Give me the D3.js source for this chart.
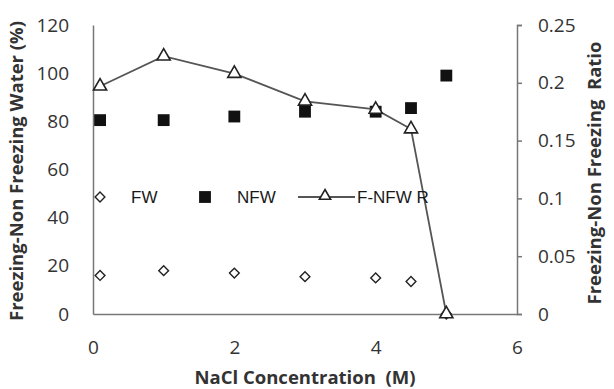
<!DOCTYPE html>
<html>
<head>
<meta charset="utf-8">
<script src="https://cdn.jsdelivr.net/npm/d3@7"></script>
<style>
  body { margin: 0; background: #fff; }
  text { font-family: "Open Sans", "DejaVu Sans", sans-serif; fill: #333; }
  text.legend { font-family: "Liberation Sans", Arial, sans-serif; fill: #1a1a1a; }
</style>
</head>
<body>
<svg id="chart" width="614" height="389"></svg>
<script>
const conc = [0.1, 1, 2, 3, 4, 4.5, 5];
const fw = [16, 18, 17, 15.5, 15, 13.5, 0];
const nfw = [80.5, 80.5, 82, 84, 84, 85.5, 99];
const ratio = [0.197, 0.223, 0.208, 0.184, 0.177, 0.16, 0];
const leftTicks = [0, 20, 40, 60, 80, 100, 120];
const rightTicks = [0, 0.05, 0.1, 0.15, 0.2, 0.25];
const xTicks = [0, 2, 4, 6];

const svg = d3.select('#chart');
const mLeft = 93, mRight = 517, mTop = 25, mBottom = 314;

const x = d3.scaleLinear().domain([0, 6]).range([mLeft, mRight]);
const yL = d3.scaleLinear().domain([0, 120]).range([mBottom, mTop]);
const yR = d3.scaleLinear().domain([0, 0.25]).range([mBottom, mTop]);
const axisColor = '#777';

// Left axis (line only, labels)
const gl = svg.append('g').attr('transform', `translate(${mLeft},0)`)
    .call(d3.axisLeft(yL).tickValues(leftTicks).tickSize(0).tickPadding(24));
gl.select('.domain').attr('stroke', axisColor).attr('stroke-width', 1.5);
gl.selectAll('text').attr('font-size', '19px').attr('fill', '#333');

// Right axis with outward ticks
const gr = svg.append('g').attr('transform', `translate(${mRight},0)`)
    .call(d3.axisRight(yR).tickValues(rightTicks).tickSize(5).tickPadding(16)
        .tickFormat(d => d === 0 ? '0' : String(d)));
gr.select('.domain').attr('stroke', axisColor).attr('stroke-width', 1.5);
gr.selectAll('line').attr('stroke', axisColor).attr('stroke-width', 1.5);
gr.selectAll('text').attr('font-size', '19px').attr('fill', '#333');

// Bottom axis
const gb = svg.append('g').attr('transform', `translate(0,${mBottom})`)
    .call(d3.axisBottom(x).tickValues(xTicks).tickSize(0).tickPadding(27)
        .tickFormat(d3.format('d')));
gb.select('.domain').attr('stroke', axisColor).attr('stroke-width', 1.5);
gb.selectAll('text').attr('font-size', '19px').attr('fill', '#333');

// Axis titles
svg.append('text')
    .attr('transform', `translate(23,${171}) rotate(-90)`)
    .attr('text-anchor', 'middle').attr('font-size', '18.5px').attr('font-weight', 'bold')
    .text('Freezing-Non Freezing Water (%)');
svg.append('text')
    .attr('transform', `translate(601,${173}) rotate(-90)`)
    .attr('text-anchor', 'middle').attr('font-size', '18.5px').attr('font-weight', 'bold')
    .attr('xml:space', 'preserve')
    .text('Freezing-Non Freezing  Ratio');
svg.append('text')
    .attr('x', 305).attr('y', 384)
    .attr('text-anchor', 'middle').attr('font-size', '18.5px').attr('font-weight', 'bold')
    .attr('xml:space', 'preserve')
    .text('NaCl Concentration  (M)');

const fwData = conc.map((c, i) => ({ x: c, y: fw[i] }));
const nfwData = conc.map((c, i) => ({ x: c, y: nfw[i] }));
const ratioData = conc.map((c, i) => ({ x: c, y: ratio[i] }));

const diamond = d3.symbol().type(d3.symbolSquare).size(48);
const square = d3.symbol().type(d3.symbolSquare).size(140);
const tri = d3.symbol().type(d3.symbolTriangle).size(75);
const triSmall = d3.symbol().type(d3.symbolTriangle).size(55);

// FW diamonds
svg.append('g').selectAll('path').data(fwData).enter().append('path')
    .attr('d', diamond)
    .attr('transform', d => `translate(${x(d.x)},${yL(d.y)}) rotate(45)`)
    .attr('fill', '#fff').attr('stroke', '#222').attr('stroke-width', 1.4);

// NFW squares
svg.append('g').selectAll('path').data(nfwData).enter().append('path')
    .attr('d', square)
    .attr('transform', d => `translate(${x(d.x)},${yL(d.y)})`)
    .attr('fill', '#111');

// Ratio line + triangles
svg.append('path').datum(ratioData)
    .attr('d', d3.line().x(d => x(d.x)).y(d => yR(d.y)))
    .attr('fill', 'none').attr('stroke', '#555').attr('stroke-width', 1.8);
svg.append('g').selectAll('path').data(ratioData).enter().append('path')
    .attr('d', tri)
    .attr('transform', d => `translate(${x(d.x)},${yR(d.y)})`)
    .attr('fill', '#fff').attr('stroke', '#222').attr('stroke-width', 1.6);

// Legend
const ly = 197;
const leg = svg.append('g');
leg.append('path').attr('d', diamond).attr('transform', `translate(100,${ly}) rotate(45)`)
    .attr('fill', '#fff').attr('stroke', '#222').attr('stroke-width', 1.4);
leg.append('text').attr('class', 'legend').attr('x', 131).attr('y', ly + 6).attr('font-size', '17px').text('FW');
leg.append('path').attr('d', square).attr('transform', `translate(205,${ly})`).attr('fill', '#111');
leg.append('text').attr('class', 'legend').attr('x', 237).attr('y', ly + 6).attr('font-size', '17px').text('NFW');
leg.append('line').attr('x1', 298).attr('x2', 355).attr('y1', ly).attr('y2', ly)
    .attr('stroke', '#555').attr('stroke-width', 1.8);
leg.append('path').attr('d', triSmall).attr('transform', `translate(325,${ly - 1})`)
    .attr('fill', '#fff').attr('stroke', '#222').attr('stroke-width', 1.6);
leg.append('text').attr('class', 'legend').attr('x', 357).attr('y', ly + 6).attr('font-size', '17px').text('F-NFW R');
</script>
</body>
</html>
